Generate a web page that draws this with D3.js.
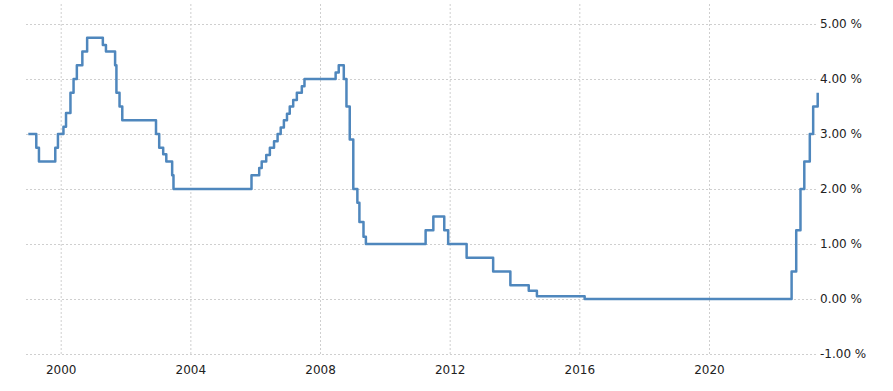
<!DOCTYPE html>
<html>
<head>
<meta charset="utf-8">
<script src="https://cdn.jsdelivr.net/npm/d3@7"></script>
<style>
  body { margin: 0; background: #fff; }
  .axis text { font-family: "DejaVu Sans", sans-serif; font-size: 12px; fill: #222; }
  .axis .tick line { stroke: #cfcfcf; stroke-dasharray: 2,2; }
</style>
</head>
<body>
<div id="chart"></div>
<script>
// rate change points (date, percent)
const dates = [
  "1999-01-01","1999-04-01","1999-05-01","1999-11-01","1999-12-01",
  "2000-02-01","2000-03-01","2000-04-20","2000-05-25","2000-07-01","2000-09-01","2000-10-25",
  "2001-04-20","2001-05-25","2001-09-05","2001-09-20","2001-10-25","2001-11-25",
  "2002-12-10","2003-01-15","2003-03-01","2003-04-05","2003-06-10","2003-06-25",
  "2005-11-20","2006-02-15","2006-03-15","2006-05-05","2006-06-15","2006-08-01",
  "2006-09-10","2006-10-15","2006-11-20","2006-12-25","2007-01-25","2007-03-05",
  "2007-04-15","2007-06-10","2007-07-10",
  "2008-06-25","2008-07-30","2008-09-25","2008-10-25","2008-12-01",
  "2009-01-10","2009-02-25","2009-03-20","2009-05-05","2009-06-01",
  "2011-04-05","2011-07-01","2011-11-01","2011-12-15","2012-07-10",
  "2013-05-05","2013-11-15","2014-06-10","2014-09-10","2016-03-01",
  "2022-07-20","2022-09-10","2022-10-28","2022-12-10","2023-02-10",
  "2023-03-20","2023-05-10"
];
const rates = [
  3.00, 2.75, 2.50, 2.75, 3.00,
  3.13, 3.38, 3.75, 4.00, 4.25, 4.50, 4.75,
  4.62, 4.50, 4.25, 3.75, 3.50, 3.25,
  3.00, 2.75, 2.63, 2.50, 2.25, 2.00,
  2.25, 2.38, 2.50, 2.62, 2.75, 2.87,
  3.00, 3.12, 3.25, 3.37, 3.50, 3.62,
  3.75, 3.87, 4.00,
  4.12, 4.25, 4.00, 3.50, 2.90,
  2.00, 1.75, 1.40, 1.13, 1.00,
  1.25, 1.50, 1.25, 1.00, 0.75,
  0.50, 0.25, 0.15, 0.05, 0.00,
  0.50, 1.25, 2.00, 2.50, 3.00,
  3.50, 3.75
];
const xTickYears = [2000, 2004, 2008, 2012, 2016, 2020];
const yTicks = [-1, 0, 1, 2, 3, 4, 5];

const width = 893;
const height = 391;
const plotLeft = 26, plotRight = 816, plotTop = 24, plotBottom = 354;

const parse = d3.timeParse("%Y-%m-%d");
const data = dates.map((d, i) => ({ date: parse(d), value: rates[i] }));

const svg = d3.select("div#chart").append("svg")
    .attr("width", width)
    .attr("height", height);

const xScale = d3.scaleTime()
    .domain([parse("1999-01-01"), parse("2023-05-10")])
    .range([28.3, 817.7]);
const yScale = d3.scaleLinear()
    .domain([-1, 5])
    .range([plotBottom, plotTop]);

// y axis on the right, ticks stretched into grid lines
const yaxis = d3.axisRight(yScale)
    .tickValues(yTicks)
    .tickSize(-(plotRight - plotLeft))
    .tickPadding(4)
    .tickFormat(d => d.toFixed(2) + " %");

svg.append("g")
  .attr("class", "axis")
  .attr("transform", "translate(" + plotRight + ",0)")
  .call(yaxis)
  .call(g => g.select(".domain").remove());

// x axis, vertical grid lines up to the top
const xaxis = d3.axisBottom(xScale)
    .tickValues(xTickYears.map(y => new Date(y, 0, 1)))
    .tickSize(-(plotBottom - 2))
    .tickPadding(11)
    .tickFormat(d3.timeFormat("%Y"));

svg.append("g")
  .attr("class", "axis")
  .attr("transform", "translate(0," + plotBottom + ")")
  .call(xaxis)
  .call(g => g.select(".domain").remove());

const line = d3.line()
    .x(d => xScale(d.date))
    .y(d => yScale(d.value))
    .curve(d3.curveStepAfter);

svg.append("path")
  .datum(data)
  .attr("fill", "none")
  .attr("stroke", "#4f87bd")
  .attr("stroke-width", 2.5)
  .attr("stroke-linejoin", "round")
  .attr("d", line);
</script>
</body>
</html>
